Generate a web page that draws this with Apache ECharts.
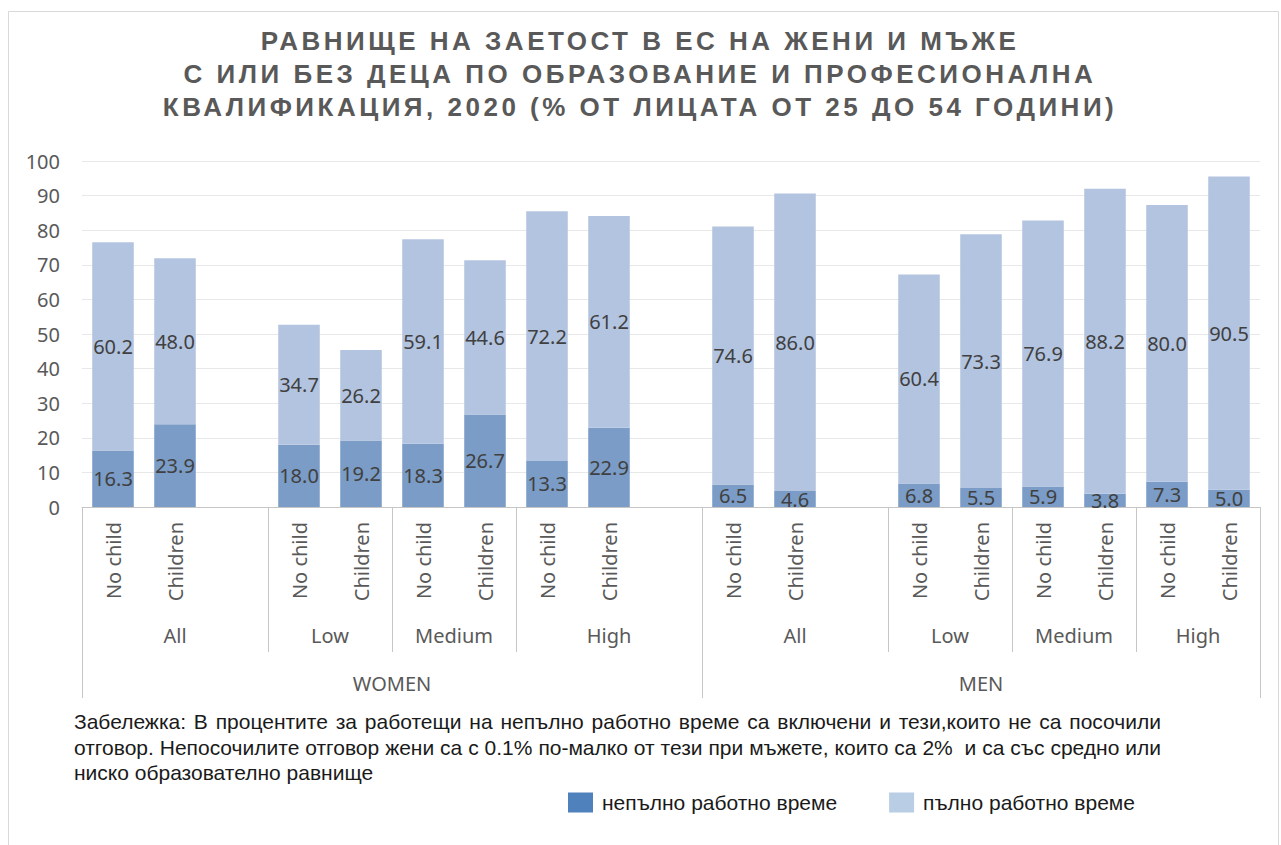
<!DOCTYPE html>
<html>
<head>
<meta charset="utf-8">
<script src="https://cdn.jsdelivr.net/npm/echarts@6/dist/echarts.min.js"></script>
<style>
html,body{margin:0;padding:0;background:#fff;}
#chart{width:1281px;height:845px;}
</style>
</head>
<body>
<div id="chart"></div>
<script>
// ---- data ----
const categories = ['W-All-NC','W-All-CH','W-All-gap','W-Low-NC','W-Low-CH','W-Med-NC','W-Med-CH','W-High-NC','W-High-CH','W-High-gap',
                    'M-All-NC','M-All-CH','M-All-gap','M-Low-NC','M-Low-CH','M-Med-NC','M-Med-CH','M-High-NC','M-High-CH'];
const leafLabels = ['No child','Children','','No child','Children','No child','Children','No child','Children','',
                    'No child','Children','','No child','Children','No child','Children','No child','Children'];
const partTime = [16.3,23.9,null,18.0,19.2,18.3,26.7,13.3,22.9,null,6.5,4.6,null,6.8,5.5,5.9,3.8,7.3,5.0];
const fullTime = [60.2,48.0,null,34.7,26.2,59.1,44.6,72.2,61.2,null,74.6,86.0,null,60.4,73.3,76.9,88.2,80.0,90.5];
// group labels with the number of categories they span
const eduGroups = [['All',3],['Low',2],['Medium',2],['High',3],['All',3],['Low',2],['Medium',2],['High',2]];
const sexGroups = [['WOMEN',10],['MEN',9]];
const yTicks = [0,10,20,30,40,50,60,70,80,90,100];
const seriesNames = ['непълно работно време','пълно работно време'];
const titleLines = ['РАВНИЩЕ НА ЗАЕТОСТ В ЕС НА ЖЕНИ И МЪЖЕ','С ИЛИ БЕЗ ДЕЦА ПО ОБРАЗОВАНИЕ И ПРОФЕСИОНАЛНА','КВАЛИФИКАЦИЯ, 2020 (% ОТ ЛИЦАТА ОТ 25 ДО 54 ГОДИНИ)'];
const noteLines = ['Забележка: В процентите за работещи на непълно работно време са включени и тези,които не са посочили',
                   'отговор. Непосочилите отговор жени са с 0.1% по-малко от тези при мъжете, които са 2%  и са със средно или',
                   'ниско образователно равнище'];

// ---- derived helpers ----
function centers(groups){
  const m = {}; let s = 0;
  groups.forEach(g => { m[(s + g[1]/2).toFixed(1)] = g[0]; s += g[1]; });
  return m;
}
function boundaries(groups){
  const b = []; let s = 0;
  groups.forEach(g => { b.push(s); s += g[1]; });
  return b;
}
const eduCenters = centers(eduGroups);
const sexCenters = centers(sexGroups);
const sexBounds = boundaries(sexGroups);
const eduBounds = boundaries(eduGroups).filter(b => sexBounds.indexOf(b) < 0);

const textColor = '#595959';
const lineColor = '#c6c6c6';
const font = 'Noto Sans';

const chart = echarts.init(document.getElementById('chart'), null, {renderer: 'svg'});
const N = categories.length;

const titleTexts = titleLines.map((t, i) => ({
  type: 'text', x: 640, y: 24 + i * 33,
  style: {text: t, align: 'center', verticalAlign: 'top', fontFamily: 'Liberation Sans', fontWeight: 'bold',
          fontSize: 26, lineHeight: 33, fill: textColor}
}));
const noteTexts = noteLines.map((t, i) => ({
  type: 'text', left: 74, top: 711 + i * 25.5,
  style: {text: t, fontFamily: 'Liberation Sans', fontSize: 21, fill: '#1a1a1a'}
}));

chart.setOption({
  animation: false,
  backgroundColor: '#fff',
  legend: {
    left: 563, top: 787,
    itemWidth: 25, itemHeight: 20, itemGap: 52,
    icon: 'rect',
    textStyle: {fontFamily: 'Liberation Sans', fontSize: 21, color: '#1a1a1a', padding: [0,0,0,4]},
    data: [
      {name: seriesNames[0], itemStyle: {color: '#4F81BD'}},
      {name: seriesNames[1], itemStyle: {color: '#B9CDE5'}}
    ]
  },
  grid: {left: 82, right: 21, top: 161, bottom: 338, containLabel: false},
  xAxis: [
    { // leaf level
      type: 'category', data: categories, position: 'bottom',
      axisLine: {show: true, lineStyle: {color: lineColor, width: 1}},
      axisTick: {show: true, length: 145, lineStyle: {color: lineColor},
                 interval: (i) => eduBounds.indexOf(i) >= 0},
      axisLabel: {interval: 0, rotate: 90, margin: 15, fontFamily: font, fontSize: 20, color: textColor,
                  formatter: (v, i) => leafLabels[i]},
      splitLine: {show: false}
    },
    { // sex level separators
      type: 'category', data: categories, position: 'bottom',
      axisLine: {show: false},
      axisTick: {show: true, length: 191, lineStyle: {color: lineColor},
                 interval: (i) => sexBounds.indexOf(i) >= 0},
      axisLabel: {show: false},
      splitLine: {show: false}
    },
    { // education group labels
      type: 'value', min: 0, max: N, interval: 0.5, position: 'bottom', offset: 114,
      axisLine: {show: false}, axisTick: {show: false}, splitLine: {show: false},
      axisLabel: {margin: 4, fontFamily: font, fontSize: 20, color: textColor, showMinLabel: true, showMaxLabel: true,
                  formatter: (v) => eduCenters[Number(v).toFixed(1)] || ''}
    },
    { // sex group labels
      type: 'value', min: 0, max: N, interval: 0.5, position: 'bottom', offset: 162,
      axisLine: {show: false}, axisTick: {show: false}, splitLine: {show: false},
      axisLabel: {margin: 4, fontFamily: font, fontSize: 20, color: textColor, showMinLabel: true, showMaxLabel: true,
                  formatter: (v) => sexCenters[Number(v).toFixed(1)] || ''}
    }
  ],
  yAxis: {
    type: 'value', min: yTicks[0], max: yTicks[yTicks.length-1], interval: 10,
    axisLine: {show: false}, axisTick: {show: false},
    axisLabel: {margin: 22, fontFamily: font, fontSize: 20, color: textColor},
    splitLine: {lineStyle: {color: '#e8e8e8', width: 1}}
  },
  series: [
    {
      name: seriesNames[0], type: 'bar', stack: 'total', xAxisIndex: 0,
      data: partTime, barWidth: '67%',
      itemStyle: {color: '#7A9CC6'},
      label: {show: true, position: 'inside', fontFamily: font, fontSize: 20, color: '#404040',
              formatter: (p) => p.value == null ? '' : p.value.toFixed(1)}
    },
    {
      name: seriesNames[1], type: 'bar', stack: 'total', xAxisIndex: 0,
      data: fullTime, barWidth: '67%',
      itemStyle: {color: '#B3C4E0'},
      label: {show: true, position: 'inside', fontFamily: font, fontSize: 20, color: '#404040',
              formatter: (p) => p.value == null ? '' : p.value.toFixed(1)}
    }
  ],
  graphic: [
    {type: 'rect', shape: {x: 8.5, y: 11.5, width: 1270, height: 860}, style: {fill: 'none', stroke: '#d9d9d9', lineWidth: 1}, silent: true, z: -10}
  ].concat(titleTexts, noteTexts)
});

// typographic tweaks on the SVG text: spaced-out title, justified note lines
function tweakText(){
  const svg = document.querySelector('#chart svg');
  if (!svg) return;
  svg.querySelectorAll('text').forEach(el => {
    const t = el.textContent;
    if (titleLines.indexOf(t) >= 0) {
      el.setAttribute('letter-spacing', '3.5px');
    } else if (t === noteLines[0] || t === noteLines[1]) {
      el.setAttribute('word-spacing', '0px');
      const w = el.getComputedTextLength();
      const spaces = (t.match(/ /g) || []).length;
      const extra = (1087 - w) / spaces;
      if (extra > 0) el.setAttribute('word-spacing', extra.toFixed(2) + 'px');
    }
  });
}
tweakText();
chart.on('finished', tweakText);
setTimeout(tweakText, 50);
</script>
</body>
</html>
